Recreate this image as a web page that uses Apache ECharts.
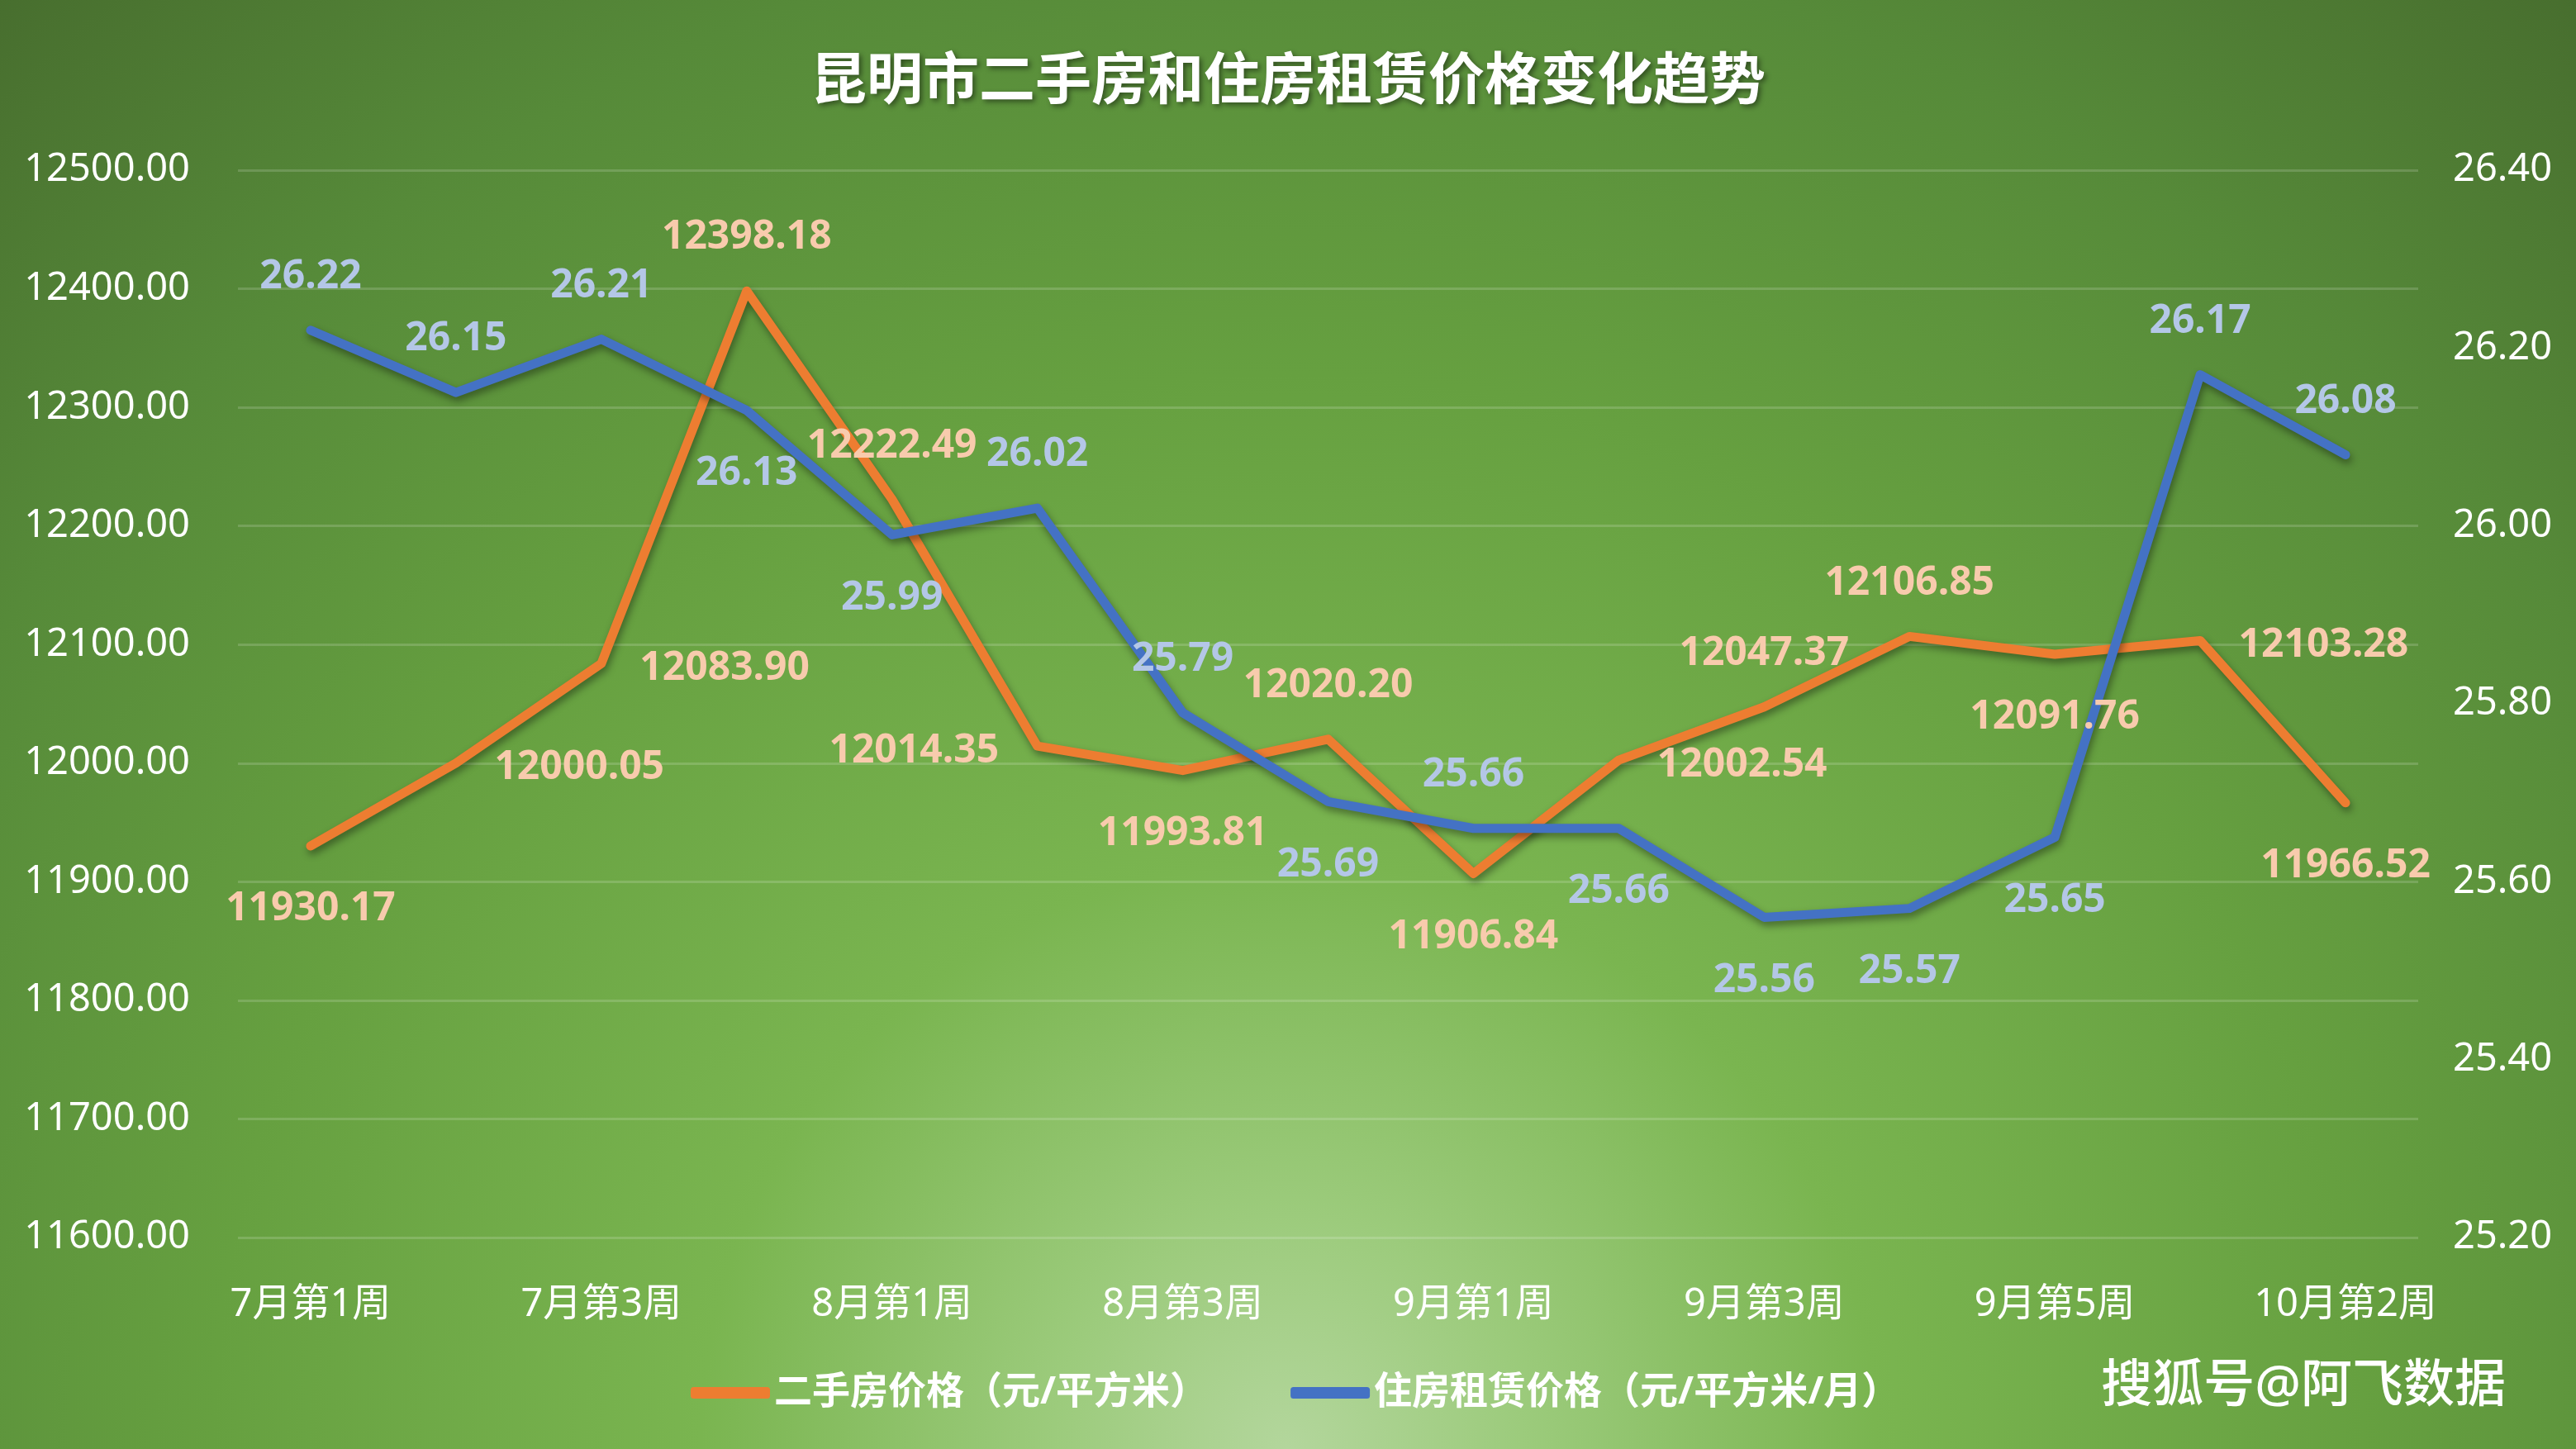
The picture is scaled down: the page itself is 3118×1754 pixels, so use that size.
<!DOCTYPE html>
<html>
<head>
<meta charset="utf-8">
<title>昆明市二手房和住房租赁价格变化趋势</title>
<script src="https://cdn.jsdelivr.net/npm/echarts@6/dist/echarts.min.js"></script>
<style>
  html, body { margin: 0; padding: 0; }
  #main { width: 3118px; height: 1754px; }
</style>
</head>
<body>
<div id="main"></div>
<script>
// 周次
var weeks = ['7月第1周', '7月第2周', '7月第3周', '7月第4周', '8月第1周', '8月第2周', '8月第3周', '8月第4周',
    '9月第1周', '9月第2周', '9月第3周', '9月第4周', '9月第5周', '10月第1周', '10月第2周'];
// 二手房价格（元/平方米）
var salePrice = [11930.17, 12000.05, 12083.90, 12398.18, 12222.49, 12014.35, 11993.81, 12020.20,
    11906.84, 12002.54, 12047.37, 12106.85, 12091.76, 12103.28, 11966.52];
// 住房租赁价格（元/平方米/月）
var rentPrice = [26.22, 26.15, 26.21, 26.13, 25.99, 26.02, 25.79, 25.69,
    25.66, 25.66, 25.56, 25.57, 25.65, 26.17, 26.08];
// 数据标签位置
var salePos = ['bottom', 'right', 'right', 'top', 'top', 'left', 'bottom', 'top',
    'bottom', 'right', 'top', 'top', 'bottom', 'right', 'bottom'];
var rentPos = ['top', 'top', 'top', 'bottom', 'bottom', 'top', 'top', 'bottom',
    'top', 'bottom', 'bottom', 'bottom', 'bottom', 'top', 'top'];

var FONT = "'Noto Sans', 'Noto Sans CJK SC', sans-serif";

var chart = echarts.init(document.getElementById('main'));

var option = {
    animation: false,
    backgroundColor: {
        type: 'radial', x: 0.5, y: 1.0, r: 1.35,
        colorStops: [
            { offset: 0, color: '#b3d69c' },
            { offset: 0.12, color: '#9ccb7c' },
            { offset: 0.3, color: '#7ab550' },
            { offset: 0.55, color: '#66a040' },
            { offset: 0.78, color: '#568a39' },
            { offset: 1, color: '#476d2e' }
        ]
    },
    title: {
        text: '昆明市二手房和住房租赁价格变化趋势',
        left: 'center',
        top: 62,
        textStyle: {
            color: '#fff', fontSize: 68, fontWeight: 'bold', fontFamily: FONT,
            textShadowColor: 'rgba(0,0,0,0.45)', textShadowBlur: 6,
            textShadowOffsetX: 3, textShadowOffsetY: 3
        }
    },
    legend: {
        left: 831,
        top: 1658,
        itemWidth: 96,
        itemHeight: 14,
        itemGap: 100,
        icon: 'roundRect',
        textStyle: { color: '#fff', fontSize: 46, fontWeight: 'bold', fontFamily: FONT }
    },
    graphic: [{
        type: 'text',
        right: 85,
        top: 1648,
        style: {
            text: '搜狐号@阿飞数据',
            fill: '#fff',
            font: '500 62px ' + FONT,
            shadowColor: 'rgba(0,0,0,0.8)', shadowBlur: 2,
            shadowOffsetX: 3, shadowOffsetY: 3
        }
    }],
    grid: { left: 288, right: 191, top: 206, bottom: 256 },
    xAxis: {
        type: 'category',
        data: weeks,
        boundaryGap: true,
        axisLine: { show: false },
        axisTick: { show: false },
        axisLabel: { color: '#fff', fontSize: 47, fontFamily: FONT, interval: 1, margin: 58 }
    },
    yAxis: [{
        type: 'value',
        min: 11600, max: 12500, interval: 100,
        axisLine: { show: false },
        axisTick: { show: false },
        axisLabel: {
            color: '#fff', fontSize: 47, fontFamily: FONT, margin: 58,
            formatter: function (v) { return v.toFixed(2); }
        },
        splitLine: { lineStyle: { color: 'rgba(255,255,255,0.16)', width: 3 } }
    }, {
        type: 'value',
        min: 25.2, max: 26.4, interval: 0.2,
        axisLine: { show: false },
        axisTick: { show: false },
        axisLabel: {
            color: '#fff', fontSize: 47, fontFamily: FONT, margin: 42,
            formatter: function (v) { return v.toFixed(2); }
        },
        splitLine: { show: false }
    }],
    series: [{
        name: '二手房价格（元/平方米）',
        type: 'line',
        yAxisIndex: 0,
        symbol: 'circle',
        symbolSize: 1,
        color: '#ed7d31',
        lineStyle: {
            width: 11, color: '#ed7d31', cap: 'round', join: 'round',
            shadowColor: 'rgba(0,0,0,0.4)', shadowBlur: 10, shadowOffsetX: 2, shadowOffsetY: 5
        },
        label: {
            show: true, distance: 46, offset: [0, 6], color: '#f8cbad', fontSize: 48, fontWeight: 'bold', fontFamily: FONT,
            formatter: function (p) { return p.value.toFixed(2); }
        },
        data: salePrice.map(function (v, i) { return { value: v, label: { position: salePos[i] } }; })
    }, {
        name: '住房租赁价格（元/平方米/月）',
        type: 'line',
        yAxisIndex: 1,
        symbol: 'circle',
        symbolSize: 1,
        color: '#4472c4',
        lineStyle: {
            width: 11, color: '#4472c4', cap: 'round', join: 'round',
            shadowColor: 'rgba(0,0,0,0.4)', shadowBlur: 10, shadowOffsetX: 2, shadowOffsetY: 5
        },
        label: {
            show: true, distance: 46, offset: [0, 6], color: '#b4c7e7', fontSize: 48, fontWeight: 'bold', fontFamily: FONT,
            formatter: function (p) { return p.value.toFixed(2); }
        },
        data: rentPrice.map(function (v, i) { return { value: v, label: { position: rentPos[i] } }; })
    }]
};

chart.setOption(option);
</script>
</body>
</html>
